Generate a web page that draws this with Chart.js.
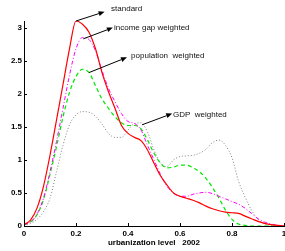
<!DOCTYPE html>
<html>
<head>
<meta charset="utf-8">
<script src="https://cdn.jsdelivr.net/npm/chart.js@4.4.1/dist/chart.umd.min.js"></script>
<style>
  html, body { margin: 0; padding: 0; background: #fff; }
  #wrap { width: 285px; height: 251px; position: relative; }
</style>
</head>
<body>
<div id="wrap"><canvas id="chart"></canvas></div>
<script>
/* ---- data ---- */
var urbanLevel = [0, 0.025, 0.05, 0.075, 0.1, 0.125, 0.15, 0.175, 0.2, 0.225,
  0.25, 0.275, 0.3, 0.325, 0.35, 0.375, 0.4, 0.425, 0.45, 0.475,
  0.5, 0.525, 0.55, 0.575, 0.6, 0.625, 0.65, 0.675, 0.7, 0.725,
  0.75, 0.775, 0.8, 0.825, 0.85, 0.875, 0.9, 0.925, 0.95, 0.975, 1];

var standardDensity = [0.02, 0.09, 0.27, 0.6, 1.07, 1.6, 2.14, 2.68, 3.1, 3.05,
  2.93, 2.68, 2.32, 2.03, 1.78, 1.52, 1.4, 1.34, 1.29, 1.15,
  0.95, 0.76, 0.62, 0.5, 0.45, 0.42, 0.39, 0.35, 0.3, 0.26,
  0.23, 0.21, 0.2, 0.19, 0.15, 0.11, 0.07, 0.04, 0.02, 0.01, 0];

var incomeGapDensity = [0.02, 0.06, 0.18, 0.42, 0.82, 1.28, 1.78, 2.28, 2.68, 2.85,
  2.82, 2.65, 2.35, 2.08, 1.88, 1.7, 1.58, 1.55, 1.45, 1.22,
  1.0, 0.78, 0.6, 0.5, 0.45, 0.45, 0.48, 0.5, 0.51, 0.49,
  0.45, 0.41, 0.37, 0.33, 0.27, 0.19, 0.11, 0.06, 0.03, 0.01, 0];

var populationDensity = [0.02, 0.06, 0.17, 0.4, 0.78, 1.2, 1.65, 2.02, 2.26, 2.37,
  2.32, 2.12, 1.92, 1.78, 1.65, 1.56, 1.52, 1.52, 1.47, 1.3,
  1.1, 0.95, 0.88, 0.89, 0.92, 0.92, 0.88, 0.82, 0.72, 0.58,
  0.42, 0.24, 0.1, 0.03, 0.01, 0, 0, 0, 0, 0, 0];

var gdpDensity = [0.02, 0.04, 0.1, 0.22, 0.42, 0.82, 1.22, 1.53, 1.68, 1.73,
  1.72, 1.66, 1.54, 1.4, 1.34, 1.34, 1.45, 1.55, 1.56, 1.42,
  1.15, 0.95, 0.9, 1.0, 1.05, 1.06, 1.07, 1.1, 1.16, 1.26,
  1.3, 1.22, 1.03, 0.68, 0.44, 0.24, 0.1, 0.03, 0.01, 0, 0];

var xTicks = [0, 0.2, 0.4, 0.6, 0.8, 1];
var xTickLabels = ['0', '0.2', '0.4', '0.6', '0.8', '1'];
var yTicks = [0, 0.5, 1, 1.5, 2, 2.5, 3];
var yTickLabels = ['0', '0.5', '1', '1.5', '2', '2.5', '3'];

/* text arrows: tail on curve -> head, label to the right of the head */
var arrowTails = [[0.2, 3.1], [0.228, 2.83], [0.25, 2.32], [0.454, 1.53]];
var arrowHeads = [[0.31, 3.24], [0.342, 3.0], [0.396, 2.55], [0.57, 1.7]];
var arrowLabels = ['standard', 'income gap weighted', 'population  weighted', 'GDP  weighted'];
var labelAnchors = [[0.335, 3.29], [0.346, 3.0], [0.412, 2.58], [0.573, 1.68]];

var FONT = '"Liberation Sans", Arial, Helvetica, sans-serif';

function toPoints(ys) {
  return urbanLevel.map(function (x, i) { return { x: x, y: ys[i] }; });
}

/* inward ticks + annotation arrows */
var matlabBits = {
  id: 'matlabBits',
  afterDraw: function (chart) {
    var ctx = chart.ctx;
    var xs = chart.scales.x, ys = chart.scales.y;
    var area = chart.chartArea;
    ctx.save();
    ctx.strokeStyle = '#000';
    ctx.lineWidth = 1;
    ctx.beginPath();
    xTicks.forEach(function (v) {
      var px = Math.round(xs.getPixelForValue(v)) + 0.5;
      ctx.moveTo(px, area.bottom);
      ctx.lineTo(px, area.bottom - 3);
    });
    yTicks.forEach(function (v) {
      var py = Math.round(ys.getPixelForValue(v)) + 0.5;
      ctx.moveTo(area.left, py);
      ctx.lineTo(area.left + 3, py);
    });
    ctx.stroke();

    for (var i = 0; i < arrowTails.length; i++) {
      var x0 = xs.getPixelForValue(arrowTails[i][0]), y0 = ys.getPixelForValue(arrowTails[i][1]);
      var x1 = xs.getPixelForValue(arrowHeads[i][0]), y1 = ys.getPixelForValue(arrowHeads[i][1]);
      var ang = Math.atan2(y1 - y0, x1 - x0);
      var hl = 6, hw = 2.5;
      var bx = x1 - hl * Math.cos(ang), by = y1 - hl * Math.sin(ang);
      ctx.beginPath();
      ctx.moveTo(x0, y0);
      ctx.lineTo(bx, by);
      ctx.stroke();
      ctx.beginPath();
      ctx.moveTo(x1, y1);
      ctx.lineTo(bx + hw * Math.sin(ang), by - hw * Math.cos(ang));
      ctx.lineTo(bx - hw * Math.sin(ang), by + hw * Math.cos(ang));
      ctx.closePath();
      ctx.fillStyle = '#000';
      ctx.fill();

      ctx.font = '8px ' + FONT;
      ctx.fillStyle = '#111';
      ctx.textAlign = 'left';
      ctx.textBaseline = 'middle';
      ctx.fillText(arrowLabels[i],
        xs.getPixelForValue(labelAnchors[i][0]), ys.getPixelForValue(labelAnchors[i][1]));
    }
    ctx.restore();
  }
};

var ctx = document.getElementById('chart').getContext('2d');
new Chart(ctx, {
  type: 'line',
  data: {
    datasets: [
      { label: 'standard', data: toPoints(standardDensity), borderColor: '#ff0000', borderWidth: 1.2 },
      { label: 'income gap weighted', data: toPoints(incomeGapDensity), borderColor: '#ff00ff', borderWidth: 1, borderDash: [4, 2, 1, 2] },
      { label: 'population weighted', data: toPoints(populationDensity), borderColor: '#00e600', borderWidth: 1.2, borderDash: [4, 3] },
      { label: 'GDP weighted', data: toPoints(gdpDensity), borderColor: '#808080', borderWidth: 1, borderDash: [1, 2] }
    ]
  },
  options: {
    responsive: true,
    maintainAspectRatio: false,
    animation: false,
    layout: { padding: { top: 21, right: 1, left: 0, bottom: 0 } },
    elements: {
      point: { radius: 0 },
      line: { cubicInterpolationMode: 'monotone', fill: false }
    },
    plugins: { legend: { display: false }, tooltip: { enabled: false } },
    scales: {
      x: {
        type: 'linear',
        min: 0, max: 1,
        afterBuildTicks: function (s) { s.ticks = xTicks.map(function (v) { return { value: v }; }); },
        afterFit: function (s) { s.height = 25; s.paddingLeft = 0; s.paddingRight = 0; },
        grid: { display: true, drawOnChartArea: false, drawTicks: false },
        border: { display: true, color: '#000', width: 1 },
        ticks: {
          padding: 3, color: '#000', maxRotation: 0, autoSkip: false,
          font: { family: FONT, size: 8, weight: 'bold' },
          callback: function (v) { var k = xTicks.indexOf(v); return k >= 0 ? xTickLabels[k] : ''; }
        },
        title: {
          display: true, text: 'urbanization level   2002', color: '#000',
          font: { family: FONT, size: 8, weight: 'bold' },
          padding: { top: 0, bottom: 3 }
        }
      },
      y: {
        type: 'linear',
        min: 0, max: 3.1,
        afterBuildTicks: function (s) { s.ticks = yTicks.map(function (v) { return { value: v }; }); },
        afterFit: function (s) { s.width = 24; },
        grid: { display: true, drawOnChartArea: false, drawTicks: false },
        border: { display: true, color: '#000', width: 1 },
        ticks: {
          padding: 2, color: '#000', autoSkip: false,
          font: { family: FONT, size: 8, weight: 'bold' },
          callback: function (v) { var k = yTicks.indexOf(v); return k >= 0 ? yTickLabels[k] : ''; }
        }
      }
    }
  },
  plugins: [matlabBits]
});
</script>
</body>
</html>
